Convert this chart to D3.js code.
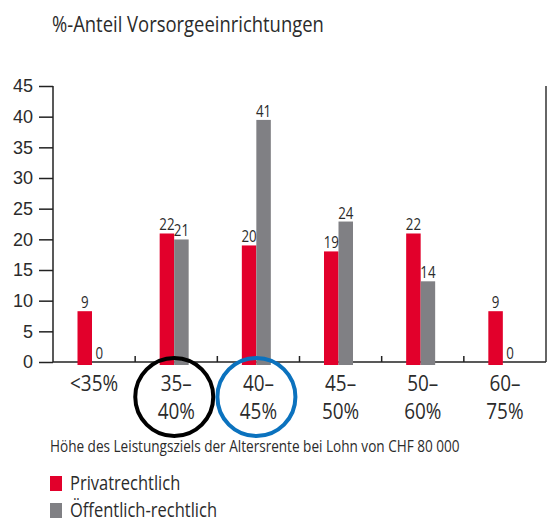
<!DOCTYPE html>
<html lang="de">
<head>
  <meta charset="UTF-8">
  <title>%-Anteil Vorsorgeeinrichtungen</title>
  <script src="https://d3js.org/d3.v7.min.js"></script>
  <style>
    body {
      margin: 0;
      background: #fff;
      font-family: 'Open Sans', sans-serif;
    }
    text { fill: #2b2b2b; }
    .axis path, .axis line { stroke: #222; stroke-width: 1.5px; }
  </style>
</head>
<body>
  <svg id="chart"></svg>

  <script>
    // data
    const categories = ["<35%", "35–40%", "40–45%", "45–50%", "50–60%", "60–75%"];
    const categoryLines = [["<35%"], ["35–", "40%"], ["40–", "45%"], ["45–", "50%"], ["50–", "60%"], ["60–", "75%"]];
    const privat = [9, 22, 20, 19, 22, 9];
    const oeffentlich = [0, 21, 41, 24, 14, 0];
    const yTicks = [0, 5, 10, 15, 20, 25, 30, 35, 40, 45];
    const seriesNames = ["Privatrechtlich", "Öffentlich-rechtlich"];
    const highlighted = [{ cat: "35–40%", color: "#000" }, { cat: "40–45%", color: "#0b72be" }];

    const colors = ["#e2002b", "#808084"];
    const width = 548, height = 522;
    const stretch = "scale(0.97,1.15)"; // the original type is a bit taller

    const svg = d3.select("#chart")
      .attr("width", width)
      .attr("height", height);

    const x = d3.scaleBand()
      .domain(categories)
      .range([53, 546])
      .padding(0);

    const xSub = d3.scaleBand()
      .domain([0, 1])
      .range([24.5, 53.5]);

    // axis scale
    const y = d3.scaleLinear()
      .domain([0, 45])
      .range([362, 86]);

    // bars in the original sit a little lower than the axis
    const yBar = d3.scaleLinear()
      .domain([0, 45])
      .range([365, 96]);

    svg.append("text")
      .attr("transform", `translate(52,32) ${stretch}`)
      .style("font-size", "19px")
      .text("%-Anteil Vorsorgeeinrichtungen");

    // y axis
    const yAxis = svg.append("g")
      .attr("class", "axis")
      .attr("transform", "translate(53,0)")
      .call(d3.axisLeft(y).tickValues(yTicks).tickSize(14).tickPadding(6));
    yAxis.select(".domain").attr("d", `M0,${y(45)}V${y(0)}`);
    yAxis.selectAll("text")
      .style("font-size", "18px")
      .attr("fill", "#2b2b2b");

    // baseline + right frame
    svg.append("line")
      .attr("x1", 53).attr("x2", 546)
      .attr("y1", y(0)).attr("y2", y(0))
      .attr("stroke", "#222").attr("stroke-width", 1.5);
    svg.append("line")
      .attr("x1", 546).attr("x2", 546)
      .attr("y1", y(45)).attr("y2", y(0))
      .attr("stroke", "#333").attr("stroke-width", 1.5);

    // separators between groups
    svg.selectAll(".sep")
      .data(categories.slice(1))
      .enter().append("line")
      .attr("x1", d => x(d)).attr("x2", d => x(d))
      .attr("y1", y(0) - 6).attr("y2", y(0))
      .attr("stroke", "#222").attr("stroke-width", 1.5);

    const groups = categories.map((c, i) => ({ cat: c, values: [privat[i], oeffentlich[i]] }));

    const g = svg.selectAll(".group")
      .data(groups)
      .enter().append("g")
      .attr("transform", d => `translate(${x(d.cat)},0)`);

    g.selectAll("rect")
      .data(d => d.values)
      .enter().append("rect")
      .attr("x", (d, i) => xSub(i))
      .attr("width", xSub.bandwidth())
      .attr("y", d => yBar(d))
      .attr("height", d => yBar(0) - yBar(d))
      .attr("fill", (d, i) => colors[i]);

    g.selectAll(".val")
      .data(d => d.values)
      .enter().append("text")
      .attr("transform", (d, i) => `translate(${xSub(i) + xSub.bandwidth() / 2},${Math.min(yBar(d), y(0)) - 3}) scale(0.95,1.12)`)
      .attr("text-anchor", "middle")
      .style("font-size", "14px")
      .text(d => d);

    // category labels
    const lab = svg.selectAll(".xlab")
      .data(categories)
      .enter().append("text")
      .attr("text-anchor", "middle")
      .style("font-size", "19.5px")
      .attr("transform", d => `translate(${x(d) + x.bandwidth() / 2},391) ${stretch}`);
    lab.selectAll("tspan")
      .data((d, i) => categoryLines[i])
      .enter().append("tspan")
      .attr("x", 0)
      .attr("y", (d, i) => i * 24.5)
      .text(d => d);

    // highlight rings
    svg.selectAll(".ring")
      .data(highlighted)
      .enter().append("ellipse")
      .attr("cx", d => x(d.cat) + x.bandwidth() / 2 - 2)
      .attr("cy", 397)
      .attr("rx", 39)
      .attr("ry", 39)
      .attr("fill", "none")
      .attr("stroke", d => d.color)
      .attr("stroke-width", 4);

    svg.append("text")
      .attr("transform", `translate(50,452) ${stretch}`)
      .style("font-size", "14px")
      .text("Höhe des Leistungsziels der Altersrente bei Lohn von CHF 80 000");

    // legend
    const leg = svg.selectAll(".leg")
      .data(seriesNames)
      .enter().append("g")
      .attr("transform", (d, i) => `translate(50,${476 + i * 27})`);
    leg.append("rect")
      .attr("width", 12).attr("height", 15)
      .attr("fill", (d, i) => colors[i]);
    leg.append("text")
      .attr("transform", `translate(20,14) ${stretch}`)
      .style("font-size", "17px")
      .text(d => d);
  </script>
</body>
</html>
